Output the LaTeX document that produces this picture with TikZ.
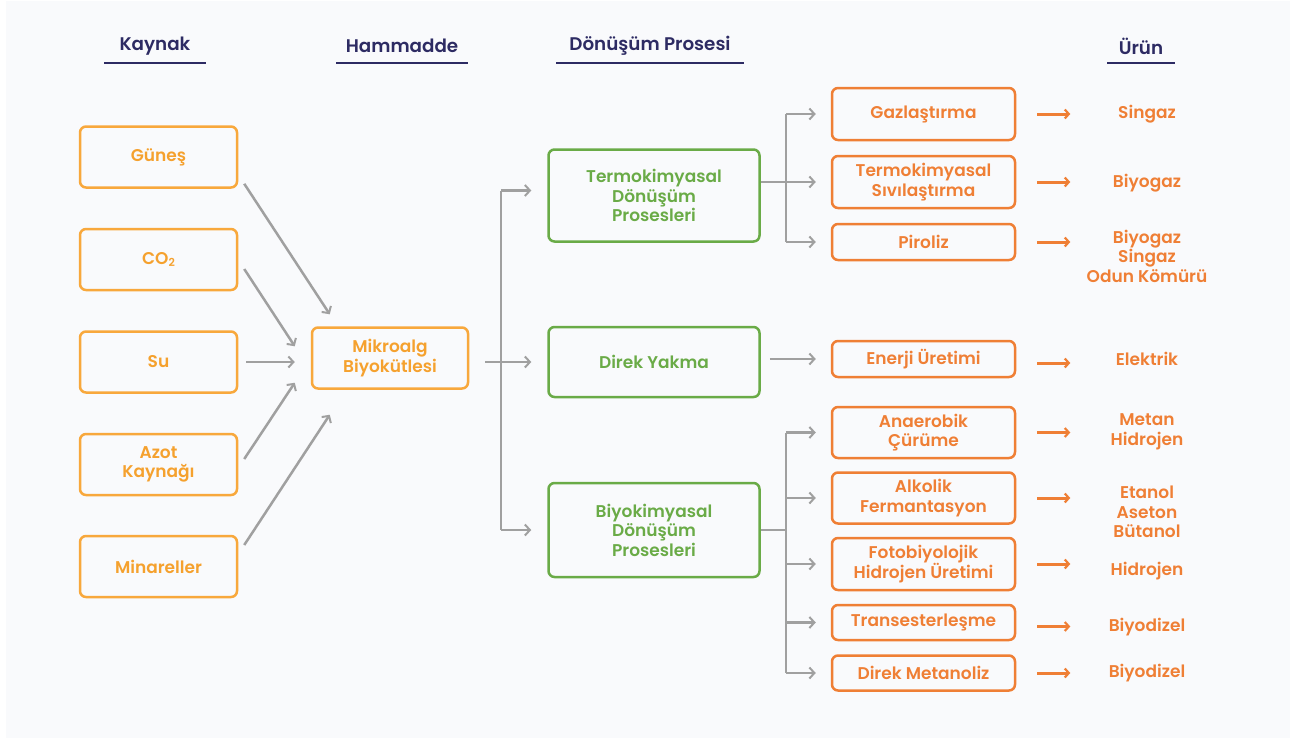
\documentclass[tikz,border=0pt]{standalone}
\usepackage{fontspec}
\setmainfont{Poppins}[BoldFont={Poppins SemiBold}]
\usetikzlibrary{arrows.meta,calc}
\definecolor{bgc}{HTML}{F9FAFC}
\definecolor{navy}{HTML}{2D2B63}
\definecolor{lor}{HTML}{F8A83C}
\definecolor{ltx}{HTML}{F5A12E}
\definecolor{grn}{HTML}{6AAB47}
\definecolor{ror}{HTML}{EF7F35}
\definecolor{gry}{HTML}{A0A0A0}
\tikzset{
  hdr/.style={font=\fontsize{18.3}{20}\selectfont\bfseries, text=navy, inner sep=0},
  ul/.style={navy, line width=2.5pt},
  base/.style={rectangle, rounded corners=6pt, line width=2.5pt, align=center, inner sep=0,
     font=\fontsize{17}{19.5}\selectfont\bfseries},
  srcbox/.style={base, draw=lor, text=ltx, minimum width=157pt, minimum height=61pt},
  grnbox/.style={base, draw=grn, text=grn, minimum width=211pt},
  prcbox/.style={base, draw=ror, text=ror, minimum width=183pt},
  prod/.style={align=center, inner sep=0, text=ror, font=\fontsize{17}{19.5}\selectfont\bfseries},
  gline/.style={gry, line width=2.5pt},
  garrow/.style={gry, line width=2.5pt, -{Straight Barb[length=5pt,width=11pt,line width=2pt]}},
  oarrow/.style={ror, line width=3pt, -{Straight Barb[length=4pt,width=9pt,line width=2.2pt]}}
}
\begin{document}
\begin{tikzpicture}[x=1pt,y=-1pt]
\fill[white] (0,0) rectangle (1290,739);
\fill[bgc] (6,1) rectangle (1290,738);
\useasboundingbox (0,0) rectangle (1290,739);

% headers
\node[hdr] (hk) at (155,46) {Kaynak};
\node[hdr] (hh) at (402,46) {Hammadde};
\node[hdr] (hd) at (650,46) {Dönüşüm Prosesi};
\node[hdr] (hu) at (1141,46) {Ürün};
\draw[ul] ($(hk.center)+(-51,17)$) -- ($(hk.center)+(51,17)$);
\draw[ul] ($(hh.center)+(-66,17)$) -- ($(hh.center)+(66,17)$);
\draw[ul] ($(hd.center)+(-94,17)$) -- ($(hd.center)+(94,17)$);
\draw[ul] ($(hu.center)+(-34,17)$) -- ($(hu.center)+(34,17)$);

% sources
\node[srcbox] (gun) at (158.5,157) {Güneş};
\node[srcbox] (co) at (158.5,259.5) {CO\raisebox{-0.15ex}{\fontsize{11}{11}\selectfont 2}};
\node[srcbox] (su) at (158.5,362) {Su};
\node[srcbox] (azt) at (158.5,464.5) {Azot\\Kaynağı};
\node[srcbox] (min) at (158.5,566.5) {Minareller};

\node[srcbox, minimum width=156pt] (mik) at (390,358) {Mikroalg\\Biyokütlesi};

\draw[garrow] ([shift={(6,-5)}]gun.south east) -- ([shift={(19,-12)}]mik.north west);
\draw[garrow] ([shift={(6,9.5)}]co.east) -- ([shift={(-16,20)}]mik.north west);
\draw[garrow] ([xshift=8]su.east) -- ([xshift=-16]su.east -| mik.west);
\draw[garrow] ([shift={(6,-5.5)}]azt.east) -- ([shift={(-16,-7)}]mik.south west);
\draw[garrow] ([shift={(6,-21.5)}]min.east) -- ([shift={(19,25)}]mik.south west);

% conversion processes
\node[grnbox, minimum height=92pt] (ter) at (654,195.5) {Termokimyasal\\Dönüşüm\\Prosesleri};
\node[grnbox, minimum height=70pt] (dy) at (654,362) {Direk Yakma};
\node[grnbox, minimum height=94pt] (bio) at (654,530) {Biyokimyasal\\Dönüşüm\\Prosesleri};

\coordinate (tr) at (501,362);
\coordinate (tt) at ([shift={(0,-5)}]tr |- ter.west);
\draw[gline] ([xshift=16]mik.east |- dy.west) -- (tr);
\draw[gline] (tt) -- (tr |- bio.west);
\draw[garrow] (tt) -- ([xshift=-16]tt -| ter.west);
\draw[garrow] (tr) -- ([xshift=-16]dy.west);
\draw[garrow] (tr |- bio.west) -- ([xshift=-16]bio.west);

% thermochemical processes
\node[prcbox, minimum height=52pt] (gaz) at (923.5,114) {Gazlaştırma};
\node[prcbox, minimum height=52pt] (tsv) at (923.5,182) {Termokimyasal\\Sıvılaştırma};
\node[prcbox, minimum height=36pt] (pir) at (923.5,242) {Piroliz};
\node[prcbox, minimum height=36pt] (ene) at (923.5,359) {Enerji Üretimi};

\coordinate (tb) at (786,182);
\draw[gline] (ter.east |- tb) -- (tb);
\draw[gline] (tb |- gaz.west) -- (tb |- pir.west);
\draw[garrow] (tb |- gaz.west) -- ([xshift=-15]gaz.west);
\draw[garrow] (tb) -- ([xshift=-15]tsv.west);
\draw[garrow] (tb |- pir.west) -- ([xshift=-15]pir.west);
\draw[garrow] ([xshift=9]dy.east |- ene.west) -- ([xshift=-15]ene.west);

% biochemical processes
\node[prcbox, minimum height=51pt] (ana) at (923.5,432.5) {Anaerobik\\Çürüme};
\node[prcbox, minimum height=51pt] (alk) at (923.5,498) {Alkolik\\Fermantasyon};
\node[prcbox, minimum height=52pt] (fot) at (923.5,564) {Fotobiyolojik\\Hidrojen Üretimi};
\node[prcbox, minimum height=35pt] (tra) at (923.5,622.5) {Transesterleşme};
\node[prcbox, minimum height=35pt] (met) at (923.5,673) {Direk Metanoliz};

\coordinate (bb) at (786,530);
\draw[gline] (bio.east) -- (bb);
\draw[gline] (tb |- ana.west) -- (tb |- met.west);
\foreach \n in {ana,alk,fot,tra,met}
  \draw[garrow] (bb |- \n.west) -- ([xshift=-15]\n.west);

% products
\node[prod] (p1) at (1147,114) {Singaz};
\node[prod] (p2) at (1147,183) {Biyogaz};
\node[prod] (p3) at (1147,256) {Biyogaz\\Singaz\\Odun Kömürü};
\node[prod] (p4) at (1147,359) {Elektrik};
\node[prod] (p5) at (1147,432) {Metan\\Hidrojen};
\node[prod] (p6) at (1147,512) {Etanol\\Aseton\\Bütanol};
\node[prod] (p7) at (1147,571) {Hidrojen};
\node[prod] (p8) at (1147,627) {Biyodizel};
\node[prod] (p9) at (1147,673) {Biyodizel};

\draw[oarrow] ([xshift=21]gaz.east) -- ([xshift=54]gaz.east);
\draw[oarrow] ([xshift=21]tsv.east) -- ([xshift=54]tsv.east);
\draw[oarrow] ([xshift=21]pir.east) -- ([xshift=54]pir.east);
\draw[oarrow] ([shift={(21,4)}]ene.east) -- ([shift={(54,4)}]ene.east);
\draw[oarrow] ([xshift=21]ana.east) -- ([xshift=54]ana.east);
\draw[oarrow] ([xshift=21]alk.east) -- ([xshift=54]alk.east);
\draw[oarrow] ([xshift=21]fot.east) -- ([xshift=54]fot.east);
\draw[oarrow] ([shift={(21,4)}]tra.east) -- ([shift={(54,4)}]tra.east);
\draw[oarrow] ([xshift=21]met.east) -- ([xshift=54]met.east);
\end{tikzpicture}
\end{document}
